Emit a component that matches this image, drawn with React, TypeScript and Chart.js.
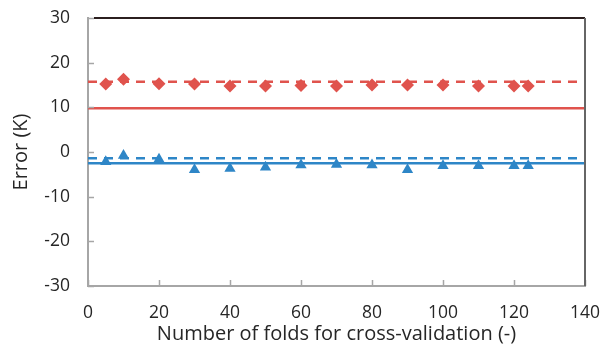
import React, { useEffect, useRef } from "react";
import { Chart, registerables } from "chart.js";

Chart.register(...registerables);

const folds = [5, 10, 20, 30, 40, 50, 60, 70, 80, 90, 100, 110, 120, 124];
const redErrors = [15.2, 16.3, 15.3, 15.2, 14.8, 14.8, 14.9, 14.8, 15.0, 15.0, 15.0, 14.8, 14.8, 14.8];
const blueErrors = [-2.2, -0.8, -1.6, -4.0, -3.7, -3.4, -2.9, -2.8, -2.9, -4.0, -3.1, -3.1, -3.1, -3.1];
const lineSpan = [0, 140];
const redDashedLevel = 15.7;
const redSolidLevel = 9.8;
const blueDashedLevel = -1.4;
const blueSolidLevel = -2.5;
const xTitle = "Number of folds for cross-validation (-)";
const yTitle = "Error (K)";

const RED = "#E0534D";
const BLUE = "#2E86C7";
const FONT = "'Open Sans', sans-serif";
const TEXT = "#262626";

const framePlugin = {
  id: "frame",
  afterDraw(chart: any) {
    const { ctx, chartArea, scales } = chart;
    const { left, right, top, bottom } = chartArea;
    ctx.save();
    ctx.strokeStyle = "#a6a6a6";
    ctx.lineWidth = 1.5;
    scales.y.ticks.forEach((t: any) => {
      const p = Math.round(scales.y.getPixelForValue(t.value)) + 0.5;
      ctx.beginPath();
      ctx.moveTo(left, p);
      ctx.lineTo(left + 6, p);
      ctx.stroke();
    });
    scales.x.ticks.forEach((t: any) => {
      const p = Math.round(scales.x.getPixelForValue(t.value)) + 0.5;
      ctx.beginPath();
      ctx.moveTo(p, bottom);
      ctx.lineTo(p, bottom - 6);
      ctx.stroke();
    });
    ctx.lineWidth = 2;
    ctx.strokeStyle = "#2b1f1f";
    ctx.beginPath();
    ctx.moveTo(left + 6, top);
    ctx.lineTo(right, top);
    ctx.stroke();
    ctx.strokeStyle = "#666666";
    ctx.beginPath();
    ctx.moveTo(right, top);
    ctx.lineTo(right, bottom);
    ctx.stroke();
    ctx.restore();
  },
};

export default function App() {
  const ref = useRef<HTMLCanvasElement>(null);
  useEffect(() => {
    if (!ref.current) return;
    const hline = (level: number) => lineSpan.map((x) => ({ x, y: level }));
    const chart = new Chart(ref.current, {
      type: "scatter",
      data: {
        datasets: [
          {
            label: "red points",
            data: folds.map((x, i) => ({ x, y: redErrors[i] })),
            pointStyle: "rectRot",
            pointRadius: 6.5,
            backgroundColor: RED,
            borderColor: RED,
            borderWidth: 0,
            order: 0,
          },
          {
            label: "blue points",
            data: folds.map((x, i) => ({ x, y: blueErrors[i] })),
            pointStyle: "triangle",
            pointRadius: 6.5,
            backgroundColor: BLUE,
            borderColor: BLUE,
            borderWidth: 0,
            order: 0,
          },
          {
            label: "red dashed",
            data: hline(redDashedLevel),
            showLine: true,
            pointRadius: 0,
            borderColor: RED,
            borderWidth: 2.5,
            borderDash: [9, 7],
            order: 1,
          },
          {
            label: "red solid",
            data: hline(redSolidLevel),
            showLine: true,
            pointRadius: 0,
            borderColor: RED,
            borderWidth: 2.5,
            order: 1,
          },
          {
            label: "blue dashed",
            data: hline(blueDashedLevel),
            showLine: true,
            pointRadius: 0,
            borderColor: BLUE,
            borderWidth: 2.5,
            borderDash: [9, 7],
            order: 1,
          },
          {
            label: "blue solid",
            data: hline(blueSolidLevel),
            showLine: true,
            pointRadius: 0,
            borderColor: BLUE,
            borderWidth: 2.5,
            order: 1,
          },
        ],
      },
      options: {
        animation: false,
        responsive: false,
        layout: { padding: { left: 0, top: 18, right: 16, bottom: 0 } },
        plugins: { legend: { display: false }, tooltip: { enabled: false } },
        scales: {
          x: {
            type: "linear",
            min: 0,
            max: 140,
            afterFit: (s: any) => {
              s.height = 62;
              s.paddingLeft = 0;
              s.paddingRight = 0;
            },
            ticks: { stepSize: 20, padding: 17, color: TEXT, font: { family: FONT, size: 17.5 }, maxRotation: 0 },
            grid: { drawOnChartArea: false, drawTicks: false },
            border: { display: true, color: "#a6a6a6", width: 2 },
            title: { display: true, text: xTitle, color: TEXT, font: { family: FONT, size: 20 }, padding: { top: 0, bottom: 2 } },
          },
          y: {
            type: "linear",
            min: -30,
            max: 30,
            afterFit: (s: any) => {
              s.width = 88;
              s.paddingTop = 0;
              s.paddingBottom = 0;
            },
            ticks: { stepSize: 10, padding: 18, color: TEXT, font: { family: FONT, size: 17.5 } },
            grid: { drawOnChartArea: false, drawTicks: false },
            border: { display: true, color: "#a6a6a6", width: 2 },
            title: { display: true, text: yTitle, color: TEXT, font: { family: FONT, size: 20 }, padding: { top: 9, bottom: 0 } },
          },
        },
      },
      plugins: [framePlugin],
    });
    return () => chart.destroy();
  }, []);
  return (
    <div style={{ position: "fixed", left: 0, top: 0, width: 601, height: 348 }}>
      <canvas ref={ref} width={601} height={348} style={{ display: "block" }} />
    </div>
  );
}
